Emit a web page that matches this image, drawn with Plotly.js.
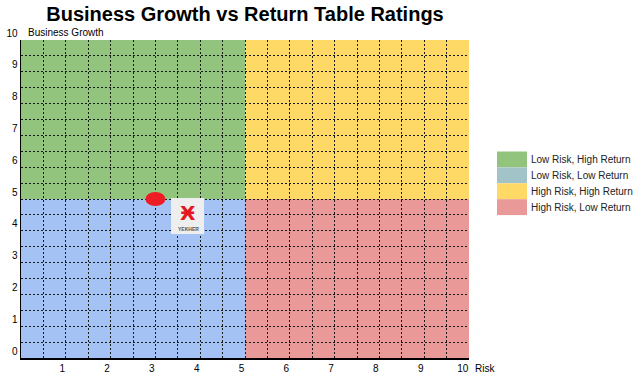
<!DOCTYPE html>
<html>
<head>
<meta charset="utf-8">
<script src="https://cdn.plot.ly/plotly-3.0.1.min.js"></script>
<style>html,body{margin:0;padding:0;background:#fff;}#chart{width:640px;height:380px;}</style>
</head>
<body>
<div id="chart"></div>
<script>
// ---- data ----
const chartTitle = 'Business Growth vs Return Table Ratings';
const xAxisLabel = 'Risk';
const yAxisLabel = 'Business Growth';
const riskTicks = [1, 2, 3, 4, 5, 6, 7, 8, 9, 10];
const growthTicks = [0, 1, 2, 3, 4, 5, 6, 7, 8, 9, 10];
const quadrantLabels = ['Low Risk, High Return', 'Low Risk, Low Return', 'High Risk, High Return', 'High Risk, Low Return'];
const quadrantRiskFrom = [0, 0, 5, 5];
const quadrantRiskTo = [5, 5, 10, 10];
const quadrantGrowthFrom = [5, 0, 5, 0];
const quadrantGrowthTo = [10, 5, 10, 5];
const quadrantColors = ['#93c47d', '#a4c2f4', '#ffd966', '#ea9999'];
const legendColors = ['#93c47d', '#a2c4c9', '#ffd966', '#ea9999'];
const pointRisk = [3];
const pointGrowth = [5];

// ---- layout helpers ----
const W = 640, H = 380;
const L = 21, R = 469, T = 40, B = 358;
const px = v => (v - L) / (R - L);
const py = v => (B - v) / (B - T);

const shapes = [];
quadrantLabels.forEach((q, i) => {
  shapes.push({
    type: 'rect', xref: 'x', yref: 'y', layer: 'below',
    x0: quadrantRiskFrom[i], x1: quadrantRiskTo[i],
    y0: quadrantGrowthFrom[i], y1: quadrantGrowthTo[i],
    fillcolor: quadrantColors[i], line: {width: 0}
  });
});
// red ellipse marker at the point
pointRisk.forEach((r, i) => {
  shapes.push({
    type: 'circle', xref: 'x', yref: 'y', layer: 'above',
    xsizemode: 'pixel', ysizemode: 'pixel',
    xanchor: r, yanchor: pointGrowth[i],
    x0: -10, x1: 10, y0: -7, y1: 7,
    fillcolor: '#ee1c25', line: {width: 0}
  });
});
// watermark logo box
shapes.push({
  type: 'rect', xref: 'paper', yref: 'paper', layer: 'above',
  x0: px(171), x1: px(204), y0: py(234), y1: py(198),
  fillcolor: '#eeeeee', line: {width: 0}
});

const annotations = [
  {xref: 'paper', yref: 'paper', x: px(26), y: py(32), xanchor: 'left', yanchor: 'middle',
   text: yAxisLabel, showarrow: false, font: {family: 'Arial, Liberation Sans', size: 10, color: '#000'}},
  {xref: 'paper', yref: 'paper', x: px(473), y: py(368), xanchor: 'left', yanchor: 'middle',
   text: xAxisLabel, showarrow: false, font: {family: 'Arial, Liberation Sans', size: 10, color: '#000'}},
  {xref: 'paper', yref: 'paper', x: px(188), y: py(213), xanchor: 'center', yanchor: 'middle',
   text: '<b>Ӿ</b>', showarrow: false, font: {family: 'DejaVu Sans', size: 20, color: '#e4161f'}},
  {xref: 'paper', yref: 'paper', x: px(188), y: py(229), xanchor: 'center', yanchor: 'middle',
   text: '<b>YEKHER</b>', showarrow: false, font: {family: 'Arial, Liberation Sans', size: 5, color: '#555'}}
];

// manual legend
const legTop = 151.5, legRow = 15.9;
quadrantLabels.forEach((q, i) => {
  shapes.push({
    type: 'rect', xref: 'paper', yref: 'paper',
    x0: px(497), x1: px(527),
    y0: py(legTop + legRow * (i + 1)), y1: py(legTop + legRow * i),
    fillcolor: legendColors[i], line: {width: 0}
  });
  annotations.push({
    xref: 'paper', yref: 'paper', x: px(529), y: py(legTop + legRow * (i + 0.5)),
    xanchor: 'left', yanchor: 'middle', text: q, showarrow: false,
    font: {family: 'Arial, Liberation Sans', size: 10, color: '#222'}
  });
});

const trace = {
  x: pointRisk, y: pointGrowth, type: 'scatter', mode: 'markers',
  marker: {size: 1, color: 'rgba(0,0,0,0)'}, showlegend: false, hoverinfo: 'skip'
};

const axisCommon = {
  showgrid: true, gridcolor: '#1a1a1a', griddash: '2px,2px', gridwidth: 1,
  minor: {dtick: 0.5, showgrid: true, gridcolor: '#1a1a1a', griddash: '2px,2px', gridwidth: 1},
  zeroline: false, showline: true, linecolor: '#000', linewidth: 1.5,
  ticks: '', tickfont: {family: 'Arial, Liberation Sans', size: 10, color: '#000'}
};

const layout = {
  width: W, height: H,
  margin: {l: L, r: W - R, t: T, b: H - B, pad: 0},
  paper_bgcolor: '#fff', plot_bgcolor: '#fff',
  showlegend: false,
  title: {text: '<b>' + chartTitle + '</b>', x: 0.5, xref: 'paper', xanchor: 'center',
          y: 1 - 14 / H, yref: 'container', yanchor: 'middle',
          font: {family: 'Arial, Liberation Sans', size: 20, color: '#000'}},
  xaxis: Object.assign({}, axisCommon, {range: [0, 10], tickmode: 'array', tickvals: riskTicks,
          ticktext: riskTicks.map(String), ticklabelposition: 'outside left', fixedrange: true}),
  yaxis: Object.assign({}, axisCommon, {range: [0, 10], tickmode: 'array', tickvals: growthTicks,
          ticktext: growthTicks.map(String), ticklabelposition: 'outside top', fixedrange: true}),
  shapes: shapes,
  annotations: annotations
};

Plotly.newPlot('chart', [trace], layout, {displayModeBar: false, staticPlot: true});
</script>
</body>
</html>
